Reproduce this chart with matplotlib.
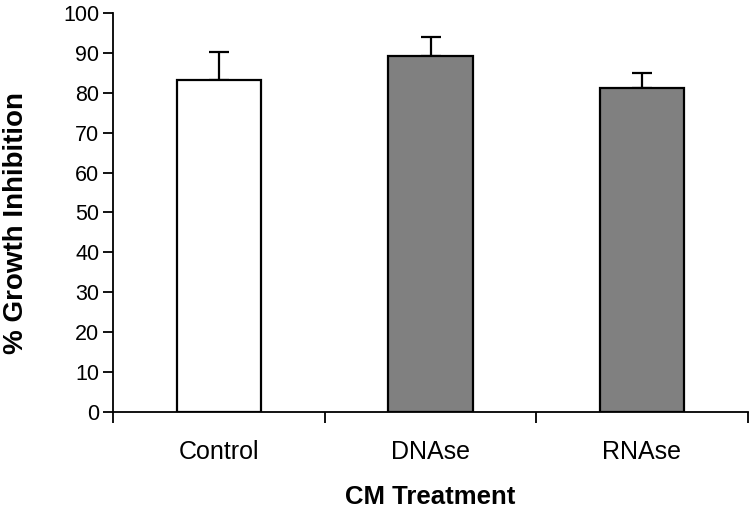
import matplotlib
matplotlib.use("Agg")
import matplotlib.pyplot as plt

plt.rcParams["font.family"] = ["Liberation Sans", "DejaVu Sans"]

categories = ["Control", "DNAse", "RNAse"]
inhibition = [83.3, 89.1, 81.1]
err_upper = [6.9, 4.9, 3.9]
bar_colors = ["white", "#808080", "#808080"]

fig = plt.figure(figsize=(7.5, 5.15), dpi=100)
ax = fig.add_axes([0.151, 0.2, 0.846, 0.775])

x = list(range(len(categories)))
ax.bar(x, inhibition, width=0.4, color=bar_colors, edgecolor="black", linewidth=1.6, zorder=2)
ax.errorbar(x, inhibition, yerr=[[0] * len(x), err_upper], fmt="none",
            ecolor="black", elinewidth=1.6, capsize=7, capthick=1.6, zorder=1)

ax.set_xlim(-0.5, len(categories) - 0.5)
ax.set_ylim(0, 100)
ax.set_yticks(range(0, 101, 10))

# boundary ticks carry the marks, centred minor ticks carry the labels
ax.set_xticks([i - 0.5 for i in range(len(categories) + 1)])
ax.set_xticklabels([])
ax.set_xticks(x, minor=True)
ax.set_xticklabels(categories, minor=True)
ax.tick_params(axis="x", which="major", length=8, width=1.3, direction="out")
ax.tick_params(axis="x", which="minor", length=0, pad=20, labelsize=18)
ax.tick_params(axis="y", length=7, width=1.3, direction="out", labelsize=15.5, pad=3)

for side in ["top", "right"]:
    ax.spines[side].set_visible(False)
for side in ["left", "bottom"]:
    ax.spines[side].set_linewidth(1.3)

ax.set_ylabel("% Growth Inhibition", fontsize=20, fontweight="bold", va="center")
ax.yaxis.set_label_coords(-0.154, 0.474)
ax.set_xlabel("CM Treatment", fontsize=18.5, fontweight="bold", va="center")
ax.xaxis.set_label_coords(0.5, -0.213)

fig.savefig("out.png", dpi=100)
